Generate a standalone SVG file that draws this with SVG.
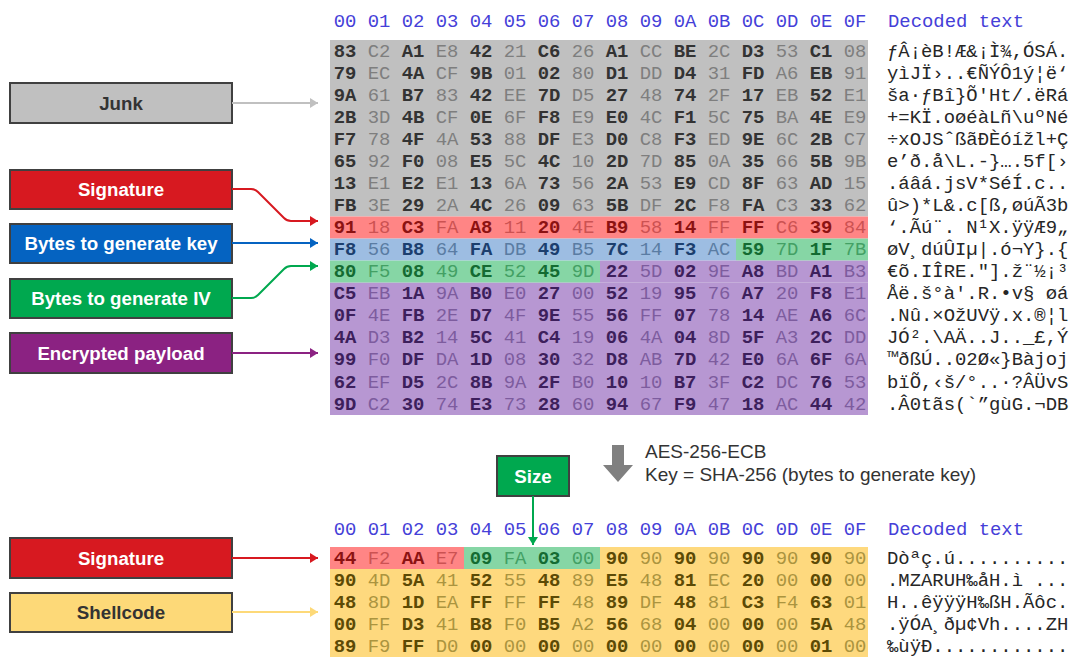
<svg xmlns="http://www.w3.org/2000/svg" width="1073" height="657" viewBox="0 0 1073 657">
<style>
.bg{fill:#ffffff}
.hx{font-family:"Liberation Mono","DejaVu Sans Mono",monospace;font-size:18.9px;text-anchor:middle}
.dc{font-family:"Liberation Mono","DejaVu Sans Mono",monospace;font-size:18.9px;fill:#262626;white-space:pre}
.hd{fill:#4540d8}
.G{fill:#333333;font-weight:bold}.g{fill:#7e7e7e}
.R{fill:#8c1212;font-weight:bold}.r{fill:#cc5252}
.B{fill:#1c3f6e;font-weight:bold}.b{fill:#5a7ca3}
.N{fill:#146b32;font-weight:bold}.n{fill:#43a064}
.P{fill:#3d1f5c;font-weight:bold}.p{fill:#7d5c9e}
.Y{fill:#5c4a05;font-weight:bold}.y{fill:#ab943f}
.box{stroke:#404040;stroke-width:2}
.lbl{font-family:"Liberation Sans",Arial,sans-serif;font-size:18.7px;font-weight:bold;text-anchor:middle}
.w{fill:#ffffff}.dk{fill:#333333}
.cn{fill:none;stroke-width:2}
.note{font-family:"Liberation Sans",Arial,sans-serif;font-size:19px;fill:#333333}
</style>
<defs>
<marker id="aGray" viewBox="0 0 8 10" refX="8" refY="5" markerWidth="8" markerHeight="10" markerUnits="userSpaceOnUse" orient="auto"><path d="M0,0L8,5L0,10z" fill="#c0c0c0"/></marker>
<marker id="aRed" viewBox="0 0 8 10" refX="8" refY="5" markerWidth="8" markerHeight="10" markerUnits="userSpaceOnUse" orient="auto"><path d="M0,0L8,5L0,10z" fill="#d71920"/></marker>
<marker id="aBlue" viewBox="0 0 8 10" refX="8" refY="5" markerWidth="8" markerHeight="10" markerUnits="userSpaceOnUse" orient="auto"><path d="M0,0L8,5L0,10z" fill="#0563c1"/></marker>
<marker id="aGreen" viewBox="0 0 8 10" refX="8" refY="5" markerWidth="8" markerHeight="10" markerUnits="userSpaceOnUse" orient="auto"><path d="M0,0L8,5L0,10z" fill="#00a84f"/></marker>
<marker id="aPurple" viewBox="0 0 8 10" refX="8" refY="5" markerWidth="8" markerHeight="10" markerUnits="userSpaceOnUse" orient="auto"><path d="M0,0L8,5L0,10z" fill="#8b2282"/></marker>
<marker id="aYellow" viewBox="0 0 8 10" refX="8" refY="5" markerWidth="8" markerHeight="10" markerUnits="userSpaceOnUse" orient="auto"><path d="M0,0L8,5L0,10z" fill="#fdd978"/></marker>
</defs>
<rect class="bg" x="0" y="0" width="1073" height="657"/>

<!-- Top hex table -->
<g id="top-table">
<rect x="330" y="40" width="538" height="176.5" fill="#c0c0c0"/>
<rect x="330" y="216.5" width="538" height="22.1" fill="#ff8585"/>
<rect x="330" y="238.6" width="406" height="22" fill="#9dbde2"/>
<rect x="736" y="238.6" width="132" height="22" fill="#86d6a5"/>
<rect x="330" y="260.6" width="270" height="22.1" fill="#86d6a5"/>
<rect x="600" y="260.6" width="268" height="22.1" fill="#b797d2"/>
<rect x="330" y="282.7" width="538" height="132.3" fill="#b797d2"/>
<text class="hx hd" y="26.5"><tspan x="345">00</tspan><tspan x="379">01</tspan><tspan x="413">02</tspan><tspan x="447">03</tspan><tspan x="481">04</tspan><tspan x="515">05</tspan><tspan x="549">06</tspan><tspan x="583">07</tspan><tspan x="617">08</tspan><tspan x="651">09</tspan><tspan x="685">0A</tspan><tspan x="719">0B</tspan><tspan x="753">0C</tspan><tspan x="787">0D</tspan><tspan x="821">0E</tspan><tspan x="855">0F</tspan></text>
<text class="hx" y="56.5"><tspan x="345" class="G">83</tspan><tspan x="379" class="g">C2</tspan><tspan x="413" class="G">A1</tspan><tspan x="447" class="g">E8</tspan><tspan x="481" class="G">42</tspan><tspan x="515" class="g">21</tspan><tspan x="549" class="G">C6</tspan><tspan x="583" class="g">26</tspan><tspan x="617" class="G">A1</tspan><tspan x="651" class="g">CC</tspan><tspan x="685" class="G">BE</tspan><tspan x="719" class="g">2C</tspan><tspan x="753" class="G">D3</tspan><tspan x="787" class="g">53</tspan><tspan x="821" class="G">C1</tspan><tspan x="855" class="g">08</tspan></text>
<text class="hx" y="78.6"><tspan x="345" class="G">79</tspan><tspan x="379" class="g">EC</tspan><tspan x="413" class="G">4A</tspan><tspan x="447" class="g">CF</tspan><tspan x="481" class="G">9B</tspan><tspan x="515" class="g">01</tspan><tspan x="549" class="G">02</tspan><tspan x="583" class="g">80</tspan><tspan x="617" class="G">D1</tspan><tspan x="651" class="g">DD</tspan><tspan x="685" class="G">D4</tspan><tspan x="719" class="g">31</tspan><tspan x="753" class="G">FD</tspan><tspan x="787" class="g">A6</tspan><tspan x="821" class="G">EB</tspan><tspan x="855" class="g">91</tspan></text>
<text class="hx" y="100.7"><tspan x="345" class="G">9A</tspan><tspan x="379" class="g">61</tspan><tspan x="413" class="G">B7</tspan><tspan x="447" class="g">83</tspan><tspan x="481" class="G">42</tspan><tspan x="515" class="g">EE</tspan><tspan x="549" class="G">7D</tspan><tspan x="583" class="g">D5</tspan><tspan x="617" class="G">27</tspan><tspan x="651" class="g">48</tspan><tspan x="685" class="G">74</tspan><tspan x="719" class="g">2F</tspan><tspan x="753" class="G">17</tspan><tspan x="787" class="g">EB</tspan><tspan x="821" class="G">52</tspan><tspan x="855" class="g">E1</tspan></text>
<text class="hx" y="122.7"><tspan x="345" class="G">2B</tspan><tspan x="379" class="g">3D</tspan><tspan x="413" class="G">4B</tspan><tspan x="447" class="g">CF</tspan><tspan x="481" class="G">0E</tspan><tspan x="515" class="g">6F</tspan><tspan x="549" class="G">F8</tspan><tspan x="583" class="g">E9</tspan><tspan x="617" class="G">E0</tspan><tspan x="651" class="g">4C</tspan><tspan x="685" class="G">F1</tspan><tspan x="719" class="g">5C</tspan><tspan x="753" class="G">75</tspan><tspan x="787" class="g">BA</tspan><tspan x="821" class="G">4E</tspan><tspan x="855" class="g">E9</tspan></text>
<text class="hx" y="144.8"><tspan x="345" class="G">F7</tspan><tspan x="379" class="g">78</tspan><tspan x="413" class="G">4F</tspan><tspan x="447" class="g">4A</tspan><tspan x="481" class="G">53</tspan><tspan x="515" class="g">88</tspan><tspan x="549" class="G">DF</tspan><tspan x="583" class="g">E3</tspan><tspan x="617" class="G">D0</tspan><tspan x="651" class="g">C8</tspan><tspan x="685" class="G">F3</tspan><tspan x="719" class="g">ED</tspan><tspan x="753" class="G">9E</tspan><tspan x="787" class="g">6C</tspan><tspan x="821" class="G">2B</tspan><tspan x="855" class="g">C7</tspan></text>
<text class="hx" y="166.9"><tspan x="345" class="G">65</tspan><tspan x="379" class="g">92</tspan><tspan x="413" class="G">F0</tspan><tspan x="447" class="g">08</tspan><tspan x="481" class="G">E5</tspan><tspan x="515" class="g">5C</tspan><tspan x="549" class="G">4C</tspan><tspan x="583" class="g">10</tspan><tspan x="617" class="G">2D</tspan><tspan x="651" class="g">7D</tspan><tspan x="685" class="G">85</tspan><tspan x="719" class="g">0A</tspan><tspan x="753" class="G">35</tspan><tspan x="787" class="g">66</tspan><tspan x="821" class="G">5B</tspan><tspan x="855" class="g">9B</tspan></text>
<text class="hx" y="188.9"><tspan x="345" class="G">13</tspan><tspan x="379" class="g">E1</tspan><tspan x="413" class="G">E2</tspan><tspan x="447" class="g">E1</tspan><tspan x="481" class="G">13</tspan><tspan x="515" class="g">6A</tspan><tspan x="549" class="G">73</tspan><tspan x="583" class="g">56</tspan><tspan x="617" class="G">2A</tspan><tspan x="651" class="g">53</tspan><tspan x="685" class="G">E9</tspan><tspan x="719" class="g">CD</tspan><tspan x="753" class="G">8F</tspan><tspan x="787" class="g">63</tspan><tspan x="821" class="G">AD</tspan><tspan x="855" class="g">15</tspan></text>
<text class="hx" y="211"><tspan x="345" class="G">FB</tspan><tspan x="379" class="g">3E</tspan><tspan x="413" class="G">29</tspan><tspan x="447" class="g">2A</tspan><tspan x="481" class="G">4C</tspan><tspan x="515" class="g">26</tspan><tspan x="549" class="G">09</tspan><tspan x="583" class="g">63</tspan><tspan x="617" class="G">5B</tspan><tspan x="651" class="g">DF</tspan><tspan x="685" class="G">2C</tspan><tspan x="719" class="g">F8</tspan><tspan x="753" class="G">FA</tspan><tspan x="787" class="g">C3</tspan><tspan x="821" class="G">33</tspan><tspan x="855" class="g">62</tspan></text>
<text class="hx" y="233"><tspan x="345" class="R">91</tspan><tspan x="379" class="r">18</tspan><tspan x="413" class="R">C3</tspan><tspan x="447" class="r">FA</tspan><tspan x="481" class="R">A8</tspan><tspan x="515" class="r">11</tspan><tspan x="549" class="R">20</tspan><tspan x="583" class="r">4E</tspan><tspan x="617" class="R">B9</tspan><tspan x="651" class="r">58</tspan><tspan x="685" class="R">14</tspan><tspan x="719" class="r">FF</tspan><tspan x="753" class="R">FF</tspan><tspan x="787" class="r">C6</tspan><tspan x="821" class="R">39</tspan><tspan x="855" class="r">84</tspan></text>
<text class="hx" y="255.1"><tspan x="345" class="B">F8</tspan><tspan x="379" class="b">56</tspan><tspan x="413" class="B">B8</tspan><tspan x="447" class="b">64</tspan><tspan x="481" class="B">FA</tspan><tspan x="515" class="b">DB</tspan><tspan x="549" class="B">49</tspan><tspan x="583" class="b">B5</tspan><tspan x="617" class="B">7C</tspan><tspan x="651" class="b">14</tspan><tspan x="685" class="B">F3</tspan><tspan x="719" class="b">AC</tspan><tspan x="753" class="N">59</tspan><tspan x="787" class="n">7D</tspan><tspan x="821" class="N">1F</tspan><tspan x="855" class="n">7B</tspan></text>
<text class="hx" y="277.2"><tspan x="345" class="N">80</tspan><tspan x="379" class="n">F5</tspan><tspan x="413" class="N">08</tspan><tspan x="447" class="n">49</tspan><tspan x="481" class="N">CE</tspan><tspan x="515" class="n">52</tspan><tspan x="549" class="N">45</tspan><tspan x="583" class="n">9D</tspan><tspan x="617" class="P">22</tspan><tspan x="651" class="p">5D</tspan><tspan x="685" class="P">02</tspan><tspan x="719" class="p">9E</tspan><tspan x="753" class="P">A8</tspan><tspan x="787" class="p">BD</tspan><tspan x="821" class="P">A1</tspan><tspan x="855" class="p">B3</tspan></text>
<text class="hx" y="299.2"><tspan x="345" class="P">C5</tspan><tspan x="379" class="p">EB</tspan><tspan x="413" class="P">1A</tspan><tspan x="447" class="p">9A</tspan><tspan x="481" class="P">B0</tspan><tspan x="515" class="p">E0</tspan><tspan x="549" class="P">27</tspan><tspan x="583" class="p">00</tspan><tspan x="617" class="P">52</tspan><tspan x="651" class="p">19</tspan><tspan x="685" class="P">95</tspan><tspan x="719" class="p">76</tspan><tspan x="753" class="P">A7</tspan><tspan x="787" class="p">20</tspan><tspan x="821" class="P">F8</tspan><tspan x="855" class="p">E1</tspan></text>
<text class="hx" y="321.3"><tspan x="345" class="P">0F</tspan><tspan x="379" class="p">4E</tspan><tspan x="413" class="P">FB</tspan><tspan x="447" class="p">2E</tspan><tspan x="481" class="P">D7</tspan><tspan x="515" class="p">4F</tspan><tspan x="549" class="P">9E</tspan><tspan x="583" class="p">55</tspan><tspan x="617" class="P">56</tspan><tspan x="651" class="p">FF</tspan><tspan x="685" class="P">07</tspan><tspan x="719" class="p">78</tspan><tspan x="753" class="P">14</tspan><tspan x="787" class="p">AE</tspan><tspan x="821" class="P">A6</tspan><tspan x="855" class="p">6C</tspan></text>
<text class="hx" y="343.4"><tspan x="345" class="P">4A</tspan><tspan x="379" class="p">D3</tspan><tspan x="413" class="P">B2</tspan><tspan x="447" class="p">14</tspan><tspan x="481" class="P">5C</tspan><tspan x="515" class="p">41</tspan><tspan x="549" class="P">C4</tspan><tspan x="583" class="p">19</tspan><tspan x="617" class="P">06</tspan><tspan x="651" class="p">4A</tspan><tspan x="685" class="P">04</tspan><tspan x="719" class="p">8D</tspan><tspan x="753" class="P">5F</tspan><tspan x="787" class="p">A3</tspan><tspan x="821" class="P">2C</tspan><tspan x="855" class="p">DD</tspan></text>
<text class="hx" y="365.4"><tspan x="345" class="P">99</tspan><tspan x="379" class="p">F0</tspan><tspan x="413" class="P">DF</tspan><tspan x="447" class="p">DA</tspan><tspan x="481" class="P">1D</tspan><tspan x="515" class="p">08</tspan><tspan x="549" class="P">30</tspan><tspan x="583" class="p">32</tspan><tspan x="617" class="P">D8</tspan><tspan x="651" class="p">AB</tspan><tspan x="685" class="P">7D</tspan><tspan x="719" class="p">42</tspan><tspan x="753" class="P">E0</tspan><tspan x="787" class="p">6A</tspan><tspan x="821" class="P">6F</tspan><tspan x="855" class="p">6A</tspan></text>
<text class="hx" y="387.5"><tspan x="345" class="P">62</tspan><tspan x="379" class="p">EF</tspan><tspan x="413" class="P">D5</tspan><tspan x="447" class="p">2C</tspan><tspan x="481" class="P">8B</tspan><tspan x="515" class="p">9A</tspan><tspan x="549" class="P">2F</tspan><tspan x="583" class="p">B0</tspan><tspan x="617" class="P">10</tspan><tspan x="651" class="p">10</tspan><tspan x="685" class="P">B7</tspan><tspan x="719" class="p">3F</tspan><tspan x="753" class="P">C2</tspan><tspan x="787" class="p">DC</tspan><tspan x="821" class="P">76</tspan><tspan x="855" class="p">53</tspan></text>
<text class="hx" y="409.5"><tspan x="345" class="P">9D</tspan><tspan x="379" class="p">C2</tspan><tspan x="413" class="P">30</tspan><tspan x="447" class="p">74</tspan><tspan x="481" class="P">E3</tspan><tspan x="515" class="p">73</tspan><tspan x="549" class="P">28</tspan><tspan x="583" class="p">60</tspan><tspan x="617" class="P">94</tspan><tspan x="651" class="p">67</tspan><tspan x="685" class="P">F9</tspan><tspan x="719" class="p">47</tspan><tspan x="753" class="P">18</tspan><tspan x="787" class="p">AC</tspan><tspan x="821" class="P">44</tspan><tspan x="855" class="p">42</tspan></text>
</g>

<g id="top-decoded">
<text class="dc hd" x="888" y="26.5">Decoded text</text>
<text class="dc" x="887" y="56.5">ƒÂ¡èB!Æ&amp;¡Ì¾,ÓSÁ.</text>
<text class="dc" x="887" y="78.6">yìJÏ›..€ÑÝÔ1ý¦ë‘</text>
<text class="dc" x="887" y="100.7">ša·ƒBî}Õ'Ht/.ëRá</text>
<text class="dc" x="887" y="122.7">+=KÏ.oøéàLñ\uºNé</text>
<text class="dc" x="887" y="144.8">÷xOJSˆßãÐÈóížl+Ç</text>
<text class="dc" x="887" y="166.9">e’ð.å\L.-}….5f[›</text>
<text class="dc" x="887" y="188.9">.áâá.jsV*SéÍ.c..</text>
<text class="dc" x="887" y="211">û&gt;)*L&amp;.c[ß,øúÃ3b</text>
<text class="dc" x="887" y="233">‘.Ãú¨. N¹X.ÿÿÆ9„</text>
<text class="dc" x="887" y="255.1">øV¸dúÛIµ|.ó¬Y}.{</text>
<text class="dc" x="887" y="277.2">€õ.IÎRE."].ž¨½¡³</text>
<text class="dc" x="887" y="299.2">Åë.š°à'.R.•v§ øá</text>
<text class="dc" x="887" y="321.3">.Nû.×OžUVÿ.x.®¦l</text>
<text class="dc" x="887" y="343.4">JÓ².\AÄ..J.._£,Ý</text>
<text class="dc" x="887" y="365.4">™ðßÚ..02Ø«}Bàjoj</text>
<text class="dc" x="887" y="387.5">bïÕ,‹š/°..·?ÂÜvS</text>
<text class="dc" x="887" y="409.5">.Â0tãs(`”gùG.¬DB</text>
</g>

<!-- Bottom hex table -->
<g id="bottom-table">
<rect x="330" y="547" width="134" height="22" fill="#ff8585"/>
<rect x="464" y="547" width="136" height="22" fill="#86d6a5"/>
<rect x="600" y="547" width="268" height="22" fill="#fed97e"/>
<rect x="330" y="569" width="538" height="88" fill="#fed97e"/>
<text class="hx hd" y="534.5"><tspan x="345">00</tspan><tspan x="379">01</tspan><tspan x="413">02</tspan><tspan x="447">03</tspan><tspan x="481">04</tspan><tspan x="515">05</tspan><tspan x="549">06</tspan><tspan x="583">07</tspan><tspan x="617">08</tspan><tspan x="651">09</tspan><tspan x="685">0A</tspan><tspan x="719">0B</tspan><tspan x="753">0C</tspan><tspan x="787">0D</tspan><tspan x="821">0E</tspan><tspan x="855">0F</tspan></text>
<text class="hx" y="563.5"><tspan x="345" class="R">44</tspan><tspan x="379" class="r">F2</tspan><tspan x="413" class="R">AA</tspan><tspan x="447" class="r">E7</tspan><tspan x="481" class="N">09</tspan><tspan x="515" class="n">FA</tspan><tspan x="549" class="N">03</tspan><tspan x="583" class="n">00</tspan><tspan x="617" class="Y">90</tspan><tspan x="651" class="y">90</tspan><tspan x="685" class="Y">90</tspan><tspan x="719" class="y">90</tspan><tspan x="753" class="Y">90</tspan><tspan x="787" class="y">90</tspan><tspan x="821" class="Y">90</tspan><tspan x="855" class="y">90</tspan></text>
<text class="hx" y="585.5"><tspan x="345" class="Y">90</tspan><tspan x="379" class="y">4D</tspan><tspan x="413" class="Y">5A</tspan><tspan x="447" class="y">41</tspan><tspan x="481" class="Y">52</tspan><tspan x="515" class="y">55</tspan><tspan x="549" class="Y">48</tspan><tspan x="583" class="y">89</tspan><tspan x="617" class="Y">E5</tspan><tspan x="651" class="y">48</tspan><tspan x="685" class="Y">81</tspan><tspan x="719" class="y">EC</tspan><tspan x="753" class="Y">20</tspan><tspan x="787" class="y">00</tspan><tspan x="821" class="Y">00</tspan><tspan x="855" class="y">00</tspan></text>
<text class="hx" y="607.5"><tspan x="345" class="Y">48</tspan><tspan x="379" class="y">8D</tspan><tspan x="413" class="Y">1D</tspan><tspan x="447" class="y">EA</tspan><tspan x="481" class="Y">FF</tspan><tspan x="515" class="y">FF</tspan><tspan x="549" class="Y">FF</tspan><tspan x="583" class="y">48</tspan><tspan x="617" class="Y">89</tspan><tspan x="651" class="y">DF</tspan><tspan x="685" class="Y">48</tspan><tspan x="719" class="y">81</tspan><tspan x="753" class="Y">C3</tspan><tspan x="787" class="y">F4</tspan><tspan x="821" class="Y">63</tspan><tspan x="855" class="y">01</tspan></text>
<text class="hx" y="629.5"><tspan x="345" class="Y">00</tspan><tspan x="379" class="y">FF</tspan><tspan x="413" class="Y">D3</tspan><tspan x="447" class="y">41</tspan><tspan x="481" class="Y">B8</tspan><tspan x="515" class="y">F0</tspan><tspan x="549" class="Y">B5</tspan><tspan x="583" class="y">A2</tspan><tspan x="617" class="Y">56</tspan><tspan x="651" class="y">68</tspan><tspan x="685" class="Y">04</tspan><tspan x="719" class="y">00</tspan><tspan x="753" class="Y">00</tspan><tspan x="787" class="y">00</tspan><tspan x="821" class="Y">5A</tspan><tspan x="855" class="y">48</tspan></text>
<text class="hx" y="651.5"><tspan x="345" class="Y">89</tspan><tspan x="379" class="y">F9</tspan><tspan x="413" class="Y">FF</tspan><tspan x="447" class="y">D0</tspan><tspan x="481" class="Y">00</tspan><tspan x="515" class="y">00</tspan><tspan x="549" class="Y">00</tspan><tspan x="583" class="y">00</tspan><tspan x="617" class="Y">00</tspan><tspan x="651" class="y">00</tspan><tspan x="685" class="Y">00</tspan><tspan x="719" class="y">00</tspan><tspan x="753" class="Y">00</tspan><tspan x="787" class="y">00</tspan><tspan x="821" class="Y">01</tspan><tspan x="855" class="y">00</tspan></text>
</g>

<g id="bottom-decoded">
<text class="dc hd" x="888" y="534.5">Decoded text</text>
<text class="dc" x="887" y="563.5">Dòªç.ú..........</text>
<text class="dc" x="887" y="585.5">.MZARUH‰åH.ì ...</text>
<text class="dc" x="887" y="607.5">H..êÿÿÿH‰ßH.Ãôc.</text>
<text class="dc" x="887" y="629.5">.ÿÓA¸ðµ¢Vh....ZH</text>
<text class="dc" x="887" y="651.5">‰ùÿÐ............</text>
</g>

<!-- Label nodes -->
<g id="node-junk"><rect class="box" x="10" y="83" width="222" height="40" fill="#c0c0c0"/><text class="lbl dk" x="121" y="109.5">Junk</text></g>
<g id="node-signature"><rect class="box" x="10" y="170" width="222" height="39" fill="#d71920"/><text class="lbl w" x="121" y="196">Signature</text></g>
<g id="node-key"><rect class="box" x="10" y="224" width="222" height="39" fill="#0563c1"/><text class="lbl w" x="121" y="250">Bytes to generate key</text></g>
<g id="node-iv"><rect class="box" x="10" y="279" width="222" height="39" fill="#00a84f"/><text class="lbl w" x="121" y="305">Bytes to generate IV</text></g>
<g id="node-payload"><rect class="box" x="10" y="333" width="222" height="40" fill="#8b2282"/><text class="lbl w" x="121" y="359.5">Encrypted payload</text></g>
<g id="node-signature2"><rect class="box" x="10" y="538" width="222" height="40" fill="#d71920"/><text class="lbl w" x="121" y="564.5">Signature</text></g>
<g id="node-shellcode"><rect class="box" x="10" y="593" width="222" height="39" fill="#fdd978"/><text class="lbl dk" x="121" y="619">Shellcode</text></g>
<g id="node-size"><rect class="box" x="497" y="456" width="72" height="40" fill="#00a84f"/><text class="lbl w" x="533" y="482.5">Size</text></g>

<g id="node-decrypt">
<polygon points="612,445 624,445 624,465 633,465 618,482 603,465 612,465" fill="#808080"/>
<text class="note" x="645" y="457.5">AES-256-ECB</text>
<text class="note" x="645" y="480.5">Key = SHA-256 (bytes to generate key)</text>
</g>

<g id="connectors">
<path class="cn" d="M232,103H318" stroke="#c0c0c0" marker-end="url(#aGray)"/>
<path class="cn" d="M232,189H251Q255,189 258,192L284,218Q287,221 291,221H318" stroke="#d71920" marker-end="url(#aRed)"/>
<path class="cn" d="M232,243H318" stroke="#0563c1" marker-end="url(#aBlue)"/>
<path class="cn" d="M232,298H251Q255,298 258,295L284,269Q287,266 291,266H318" stroke="#00a84f" marker-end="url(#aGreen)"/>
<path class="cn" d="M232,353H318" stroke="#8b2282" marker-end="url(#aPurple)"/>
<path class="cn" d="M232,558H318" stroke="#d71920" marker-end="url(#aRed)"/>
<path class="cn" d="M232,612H318" stroke="#fdd978" marker-end="url(#aYellow)"/>
<path class="cn" d="M533,496V545" stroke="#00a84f" marker-end="url(#aGreen)"/>
</g>
</svg>
